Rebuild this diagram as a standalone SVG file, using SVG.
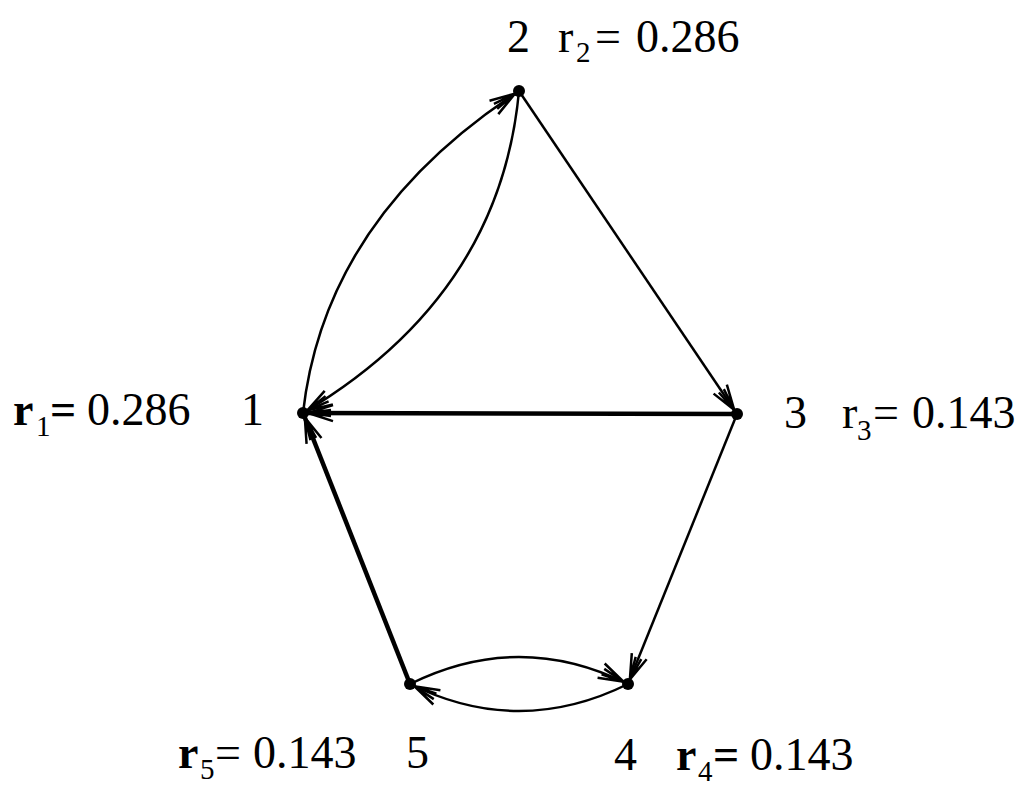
<svg xmlns="http://www.w3.org/2000/svg" width="1036" height="785" viewBox="0 0 1036 785">
<style>
.e{fill:none;stroke:#000;stroke-width:2.5}
.t{stroke-width:4.5}
.l{font-family:"Liberation Serif","Times New Roman",serif;font-size:46px;fill:#000}
.s{font-size:29px}
.b{font-weight:bold}
.n{font-weight:normal}
</style>
<defs>
<marker id="a" markerUnits="userSpaceOnUse" markerWidth="40" markerHeight="30" viewBox="-30 -15 40 30" refX="5" refY="0" orient="auto">
<path d="M-25,-8 L0,0 L-25,8 M-23,-3 L0,0 L-23,3" fill="none" stroke="#000" stroke-width="2.5"/>
</marker>
</defs>
<rect width="1036" height="785" fill="#fff"/>
<g id="connectors">
<path class="e" d="M303,413 Q325,218 519,91" marker-end="url(#a)"/>
<path class="e" d="M519,91 Q500,296 303,413" marker-end="url(#a)"/>
<path class="e" d="M519,91 L737,414" marker-end="url(#a)"/>
<path class="e t" d="M737,414 L303,413" marker-end="url(#a)"/>
<path class="e" d="M737,414 L628,684" marker-end="url(#a)"/>
<path class="e t" d="M410,684 L303,413" marker-end="url(#a)"/>
<path class="e" d="M410,684 Q519,630 628,684" marker-end="url(#a)"/>
<path class="e" d="M628,684 Q519,738 410,684" marker-end="url(#a)"/>
</g>
<g id="node1">
<circle cx="303" cy="413" r="6"/>
<text class="l" x="241" y="425">1</text>
<text class="l b" y="425"><tspan x="13">r</tspan><tspan class="s n" x="36" y="436">1</tspan><tspan x="50" y="425">=</tspan><tspan x="87" class="n">0.286</tspan></text>
</g>
<g id="node2">
<circle cx="519" cy="91" r="6"/>
<text class="l" x="507" y="52">2</text>
<text class="l" y="52"><tspan x="558">r</tspan><tspan class="s" x="576" y="62">2</tspan><tspan x="595" y="52">=</tspan><tspan x="636">0.286</tspan></text>
</g>
<g id="node3">
<circle cx="737" cy="414" r="6"/>
<text class="l" x="784" y="428">3</text>
<text class="l" y="428"><tspan x="842">r</tspan><tspan class="s" x="857" y="440">3</tspan><tspan x="873" y="428">=</tspan><tspan x="912">0.143</tspan></text>
</g>
<g id="node4">
<circle cx="628" cy="684" r="6"/>
<text class="l" x="614" y="770">4</text>
<text class="l b" y="770"><tspan x="676">r</tspan><tspan class="s n" x="698" y="781">4</tspan><tspan x="713" y="770">=</tspan><tspan x="750" class="n">0.143</tspan></text>
</g>
<g id="node5">
<circle cx="410" cy="684" r="6"/>
<text class="l" x="406" y="768">5</text>
<text class="l b" y="768"><tspan x="178">r</tspan><tspan class="s n" x="200" y="779">5</tspan><tspan x="215" y="768" class="n">=</tspan><tspan x="253" class="n">0.143</tspan></text>
</g>
</svg>
